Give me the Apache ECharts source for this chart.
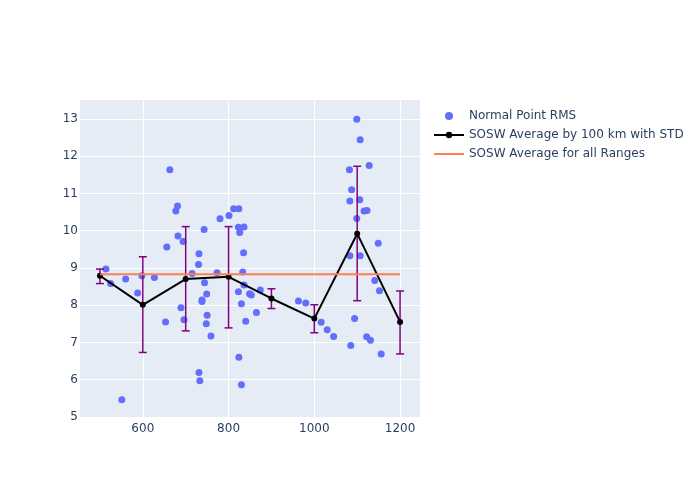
<!DOCTYPE html>
<html>
<head>
<meta charset="utf-8">
<script src="https://cdn.jsdelivr.net/npm/echarts@6/dist/echarts.min.js"></script>
<style>
  html, body { margin: 0; padding: 0; background: #fff; }
  #chart { width: 700px; height: 500px; }
</style>
</head>
<body>
<div id="chart"></div>
<script>
// 散点: [距离, RMS]
const pointX = [514, 525, 551, 560, 588, 598, 627, 653, 656, 663, 677, 681, 682, 689, 694, 696,
  715, 731, 730, 744, 749, 738, 738, 750, 748, 759, 731, 733, 743, 773, 780, 801, 812, 824,
  823, 836, 826, 835, 824, 830, 833, 823, 830, 840, 836, 849, 853, 865, 874,
  963, 980, 1016, 1030, 1045, 1085, 1094, 1122, 1131, 1156, 1141, 1152,
  1099, 1107, 1082, 1128, 1087, 1083, 1106, 1116, 1123, 1099, 1149, 1083, 1107]
const pointY = [8.97, 8.58, 5.46, 8.70, 8.33, 8.79, 8.74, 7.55, 9.56, 11.64, 10.53, 10.66, 9.86, 7.93, 9.71, 7.61,
  8.85, 9.38, 9.09, 8.60, 8.30, 8.14, 8.10, 7.73, 7.50, 7.17, 6.19, 5.97, 10.03, 8.87, 10.32, 10.41, 10.59, 10.59,
  10.09, 10.10, 9.95, 9.41, 6.60, 5.86, 8.89, 8.36, 8.04, 7.57, 8.54, 8.31, 8.27, 7.80, 8.41,
  8.11, 8.06, 7.54, 7.34, 7.16, 6.92, 7.64, 7.15, 7.06, 6.69, 8.66, 8.39,
  12.99, 12.44, 11.64, 11.75, 11.10, 10.80, 10.83, 10.53, 10.54, 10.33, 9.66, 9.33, 9.33]

// 每100 km 平均值及标准差范围
const binX = [500, 600, 700, 800, 900, 1000, 1100, 1200]
const binMean = [8.79, 8.01, 8.70, 8.76, 8.18, 7.64, 9.92, 7.55]
const binLow = [8.58, 6.73, 7.31, 7.39, 7.91, 7.26, 8.12, 6.69]
const binHigh = [8.97, 9.30, 10.11, 10.11, 8.44, 8.01, 11.73, 8.38]

// 全部范围平均值
const allAvg = 8.83
const allRange = [500, 1200]

const xTicks = [600, 800, 1000, 1200]
const yTicks = [5, 6, 7, 8, 9, 10, 11, 12, 13]

const fontFamily = '"DejaVu Sans", sans-serif'
const textColor = '#2a3f5f'

const chart = echarts.init(document.getElementById('chart'))

chart.setOption({
  animation: false,
  textStyle: { fontFamily: fontFamily },
  grid: {
    left: 80,
    right: 280,
    top: 100,
    bottom: 82,
    show: true,
    backgroundColor: '#E5ECF6',
    borderWidth: 0,
  },
  legend: {
    orient: 'vertical',
    left: 428,
    top: 105,
    itemWidth: 30,
    itemHeight: 8,
    itemGap: 7,
    textStyle: { color: textColor, fontSize: 12, fontFamily: fontFamily },
    data: [
      { name: 'Normal Point RMS', icon: 'circle', itemStyle: { color: '#636efa' } },
      { name: 'SOSW Average by 100 km with STD' },
      { name: 'SOSW Average for all Ranges', icon: 'path://M0,0H30V2H0Z', itemStyle: { color: '#ff7f50' } },
    ],
  },
  xAxis: {
    type: 'value',
    min: 453.5,
    max: 1246.5,
    axisLine: { show: false },
    axisTick: { show: false, customValues: xTicks },
    axisLabel: { customValues: xTicks, color: textColor, fontSize: 12, margin: 5, formatter: v => String(v) },
    splitLine: { show: true, lineStyle: { color: '#fff', width: 1 } },
  },
  yAxis: {
    type: 'value',
    min: 4.97,
    max: 13.51,
    axisLine: { show: false },
    axisTick: { show: false, customValues: yTicks },
    axisLabel: { customValues: yTicks, color: textColor, fontSize: 12, margin: 2 },
    splitLine: { show: true, lineStyle: { color: '#fff', width: 1 } },
  },
  series: [
    {
      name: 'Normal Point RMS',
      type: 'scatter',
      symbolSize: 7,
      itemStyle: { color: '#636efa', opacity: 1 },
      data: pointX.map((x, i) => [x, pointY[i]]),
      z: 2,
    },
    {
      name: 'STD',
      type: 'custom',
      data: binX.map((x, i) => [x, binLow[i], binHigh[i]]),
      renderItem: function (params, api) {
        const lo = api.coord([api.value(0), api.value(1)])
        const hi = api.coord([api.value(0), api.value(2)])
        const half = 4
        const style = { stroke: '#800080', lineWidth: 1.5 }
        return {
          type: 'group',
          children: [
            { type: 'line', shape: { x1: lo[0], y1: lo[1], x2: hi[0], y2: hi[1] }, style: style },
            { type: 'line', shape: { x1: hi[0] - half, y1: hi[1], x2: hi[0] + half, y2: hi[1] }, style: style },
            { type: 'line', shape: { x1: lo[0] - half, y1: lo[1], x2: lo[0] + half, y2: lo[1] }, style: style },
          ],
        }
      },
      z: 3,
    },
    {
      name: 'SOSW Average by 100 km with STD',
      type: 'line',
      symbol: 'circle',
      symbolSize: 6,
      lineStyle: { color: '#000', width: 2 },
      itemStyle: { color: '#000' },
      data: binX.map((x, i) => [x, binMean[i]]),
      z: 4,
    },
    {
      name: 'SOSW Average for all Ranges',
      type: 'line',
      symbol: 'none',
      lineStyle: { color: '#ff7f50', width: 2 },
      itemStyle: { color: '#ff7f50' },
      data: allRange.map(x => [x, allAvg]),
      z: 5,
    },
  ],
})
</script>
</body>
</html>
